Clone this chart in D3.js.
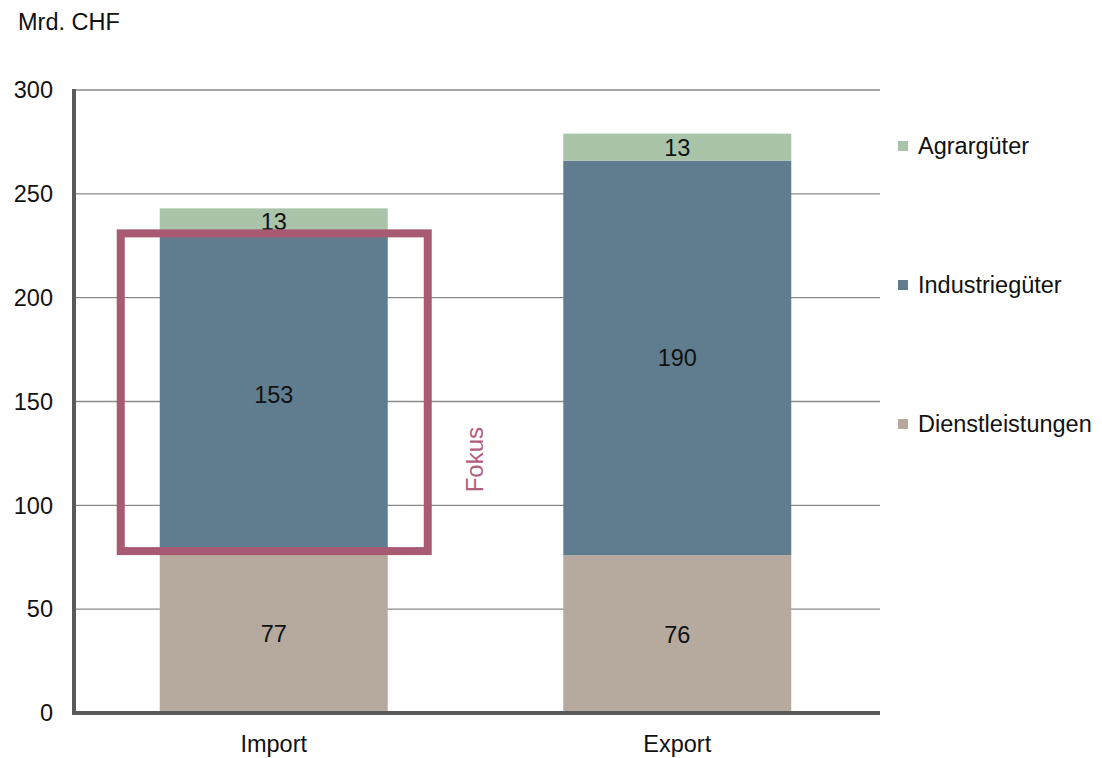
<!DOCTYPE html>
<html lang="de">
<head>
<meta charset="UTF-8">
<title>Import / Export</title>
<script src="https://d3js.org/d3.v7.min.js"></script>
<style>
  body { margin: 0; background: #fff; }
  svg text { font-family: "Liberation Sans", Arial, sans-serif; }
</style>
</head>
<body>
<svg width="1102" height="758"></svg>
<script>
  // data
  const categories = ["Import", "Export"];
  const seriesNames = ["Dienstleistungen", "Industriegüter", "Agrargüter"];
  const dienstleistungen = [77, 76];
  const industriegueter = [153, 190];
  const agrargueter = [13, 13];
  const yTicks = [0, 50, 100, 150, 200, 250, 300];
  const legendOrder = ["Agrargüter", "Industriegüter", "Dienstleistungen"];

  const colors = {
    "Dienstleistungen": "#b6aa9e",
    "Industriegüter": "#5f7d8f",
    "Agrargüter": "#a9c4a9"
  };

  const rows = categories.map((c, i) => ({
    cat: c,
    "Dienstleistungen": dienstleistungen[i],
    "Industriegüter": industriegueter[i],
    "Agrargüter": agrargueter[i]
  }));

  const svg = d3.select("svg");
  const plotLeft = 75, plotRight = 880, plotTop = 90, plotBottom = 713;
  const fs = 23.5;

  const y = d3.scaleLinear().domain([0, 300]).range([plotBottom, plotTop]);
  const x = d3.scaleBand().domain(categories).range([plotLeft, plotRight - 4])
      .paddingInner(0.435).paddingOuter(0.21);

  // unit label
  svg.append("text").attr("x", 18).attr("y", 30)
      .attr("font-size", fs).attr("fill", "#111").text("Mrd. CHF");

  // gridlines
  svg.append("g").selectAll("line")
      .data(yTicks.filter(d => d > 0))
      .join("line")
      .attr("x1", plotLeft).attr("x2", plotRight)
      .attr("y1", d => y(d)).attr("y2", d => y(d))
      .attr("stroke", "#8a8a8a").attr("stroke-width", 1.4);

  // y tick labels
  svg.append("g").selectAll("text")
      .data(yTicks)
      .join("text")
      .attr("x", 53).attr("y", d => y(d))
      .attr("dy", "0.35em").attr("text-anchor", "end")
      .attr("font-size", fs).attr("fill", "#111")
      .text(d => d);

  // stacked bars
  const stacked = d3.stack().keys(seriesNames)(rows);
  const layers = svg.append("g").selectAll("g")
      .data(stacked)
      .join("g")
      .attr("fill", d => colors[d.key]);

  layers.selectAll("rect")
      .data(d => d)
      .join("rect")
      .attr("x", d => x(d.data.cat))
      .attr("width", x.bandwidth())
      .attr("y", d => y(d[1]))
      .attr("height", d => y(d[0]) - y(d[1]));

  layers.selectAll("text")
      .data(d => d.map(v => ({ v, key: d.key })))
      .join("text")
      .attr("x", d => x(d.v.data.cat) + x.bandwidth() / 2)
      .attr("y", d => y((d.v[0] + d.v[1]) / 2))
      .attr("dy", "0.36em")
      .attr("text-anchor", "middle")
      .attr("font-size", fs).attr("fill", "#111")
      .text(d => d.v.data[d.key]);

  // axes (thick dark lines)
  const axis = svg.append("g").attr("stroke", "#5a5a5a").attr("stroke-width", 4);
  axis.append("line").attr("x1", plotLeft - 1).attr("x2", plotLeft - 1)
      .attr("y1", plotTop - 1).attr("y2", plotBottom + 2);
  axis.append("line").attr("x1", plotLeft - 3).attr("x2", plotRight)
      .attr("y1", plotBottom).attr("y2", plotBottom);

  // x labels
  svg.append("g").selectAll("text")
      .data(categories)
      .join("text")
      .attr("x", d => x(d) + x.bandwidth() / 2)
      .attr("y", 752)
      .attr("text-anchor", "middle")
      .attr("font-size", fs).attr("fill", "#111")
      .text(d => d);

  // focus frame around the Import industry segment
  const imp = stacked[1][0];
  svg.append("rect")
      .attr("x", x("Import") - 39)
      .attr("y", y(imp[1]) - 2)
      .attr("width", x.bandwidth() + 79)
      .attr("height", y(imp[0]) - y(imp[1]))
      .attr("fill", "none")
      .attr("stroke", "#a85a72")
      .attr("stroke-width", 8);

  svg.append("text")
      .attr("transform", `translate(483, ${y(122)}) rotate(-90)`)
      .attr("text-anchor", "middle")
      .attr("font-size", 24).attr("fill", "#b0607c")
      .text("Fokus");

  // legend
  const legend = svg.append("g").selectAll("g")
      .data(legendOrder)
      .join("g")
      .attr("transform", (d, i) => `translate(898, ${146 + i * 139})`);
  legend.append("rect")
      .attr("x", 0).attr("y", -5).attr("width", 10).attr("height", 10)
      .attr("fill", d => colors[d]);
  legend.append("text")
      .attr("x", 20).attr("y", 0).attr("dy", "0.36em")
      .attr("font-size", fs).attr("fill", "#111")
      .text(d => d);
</script>
</body>
</html>
